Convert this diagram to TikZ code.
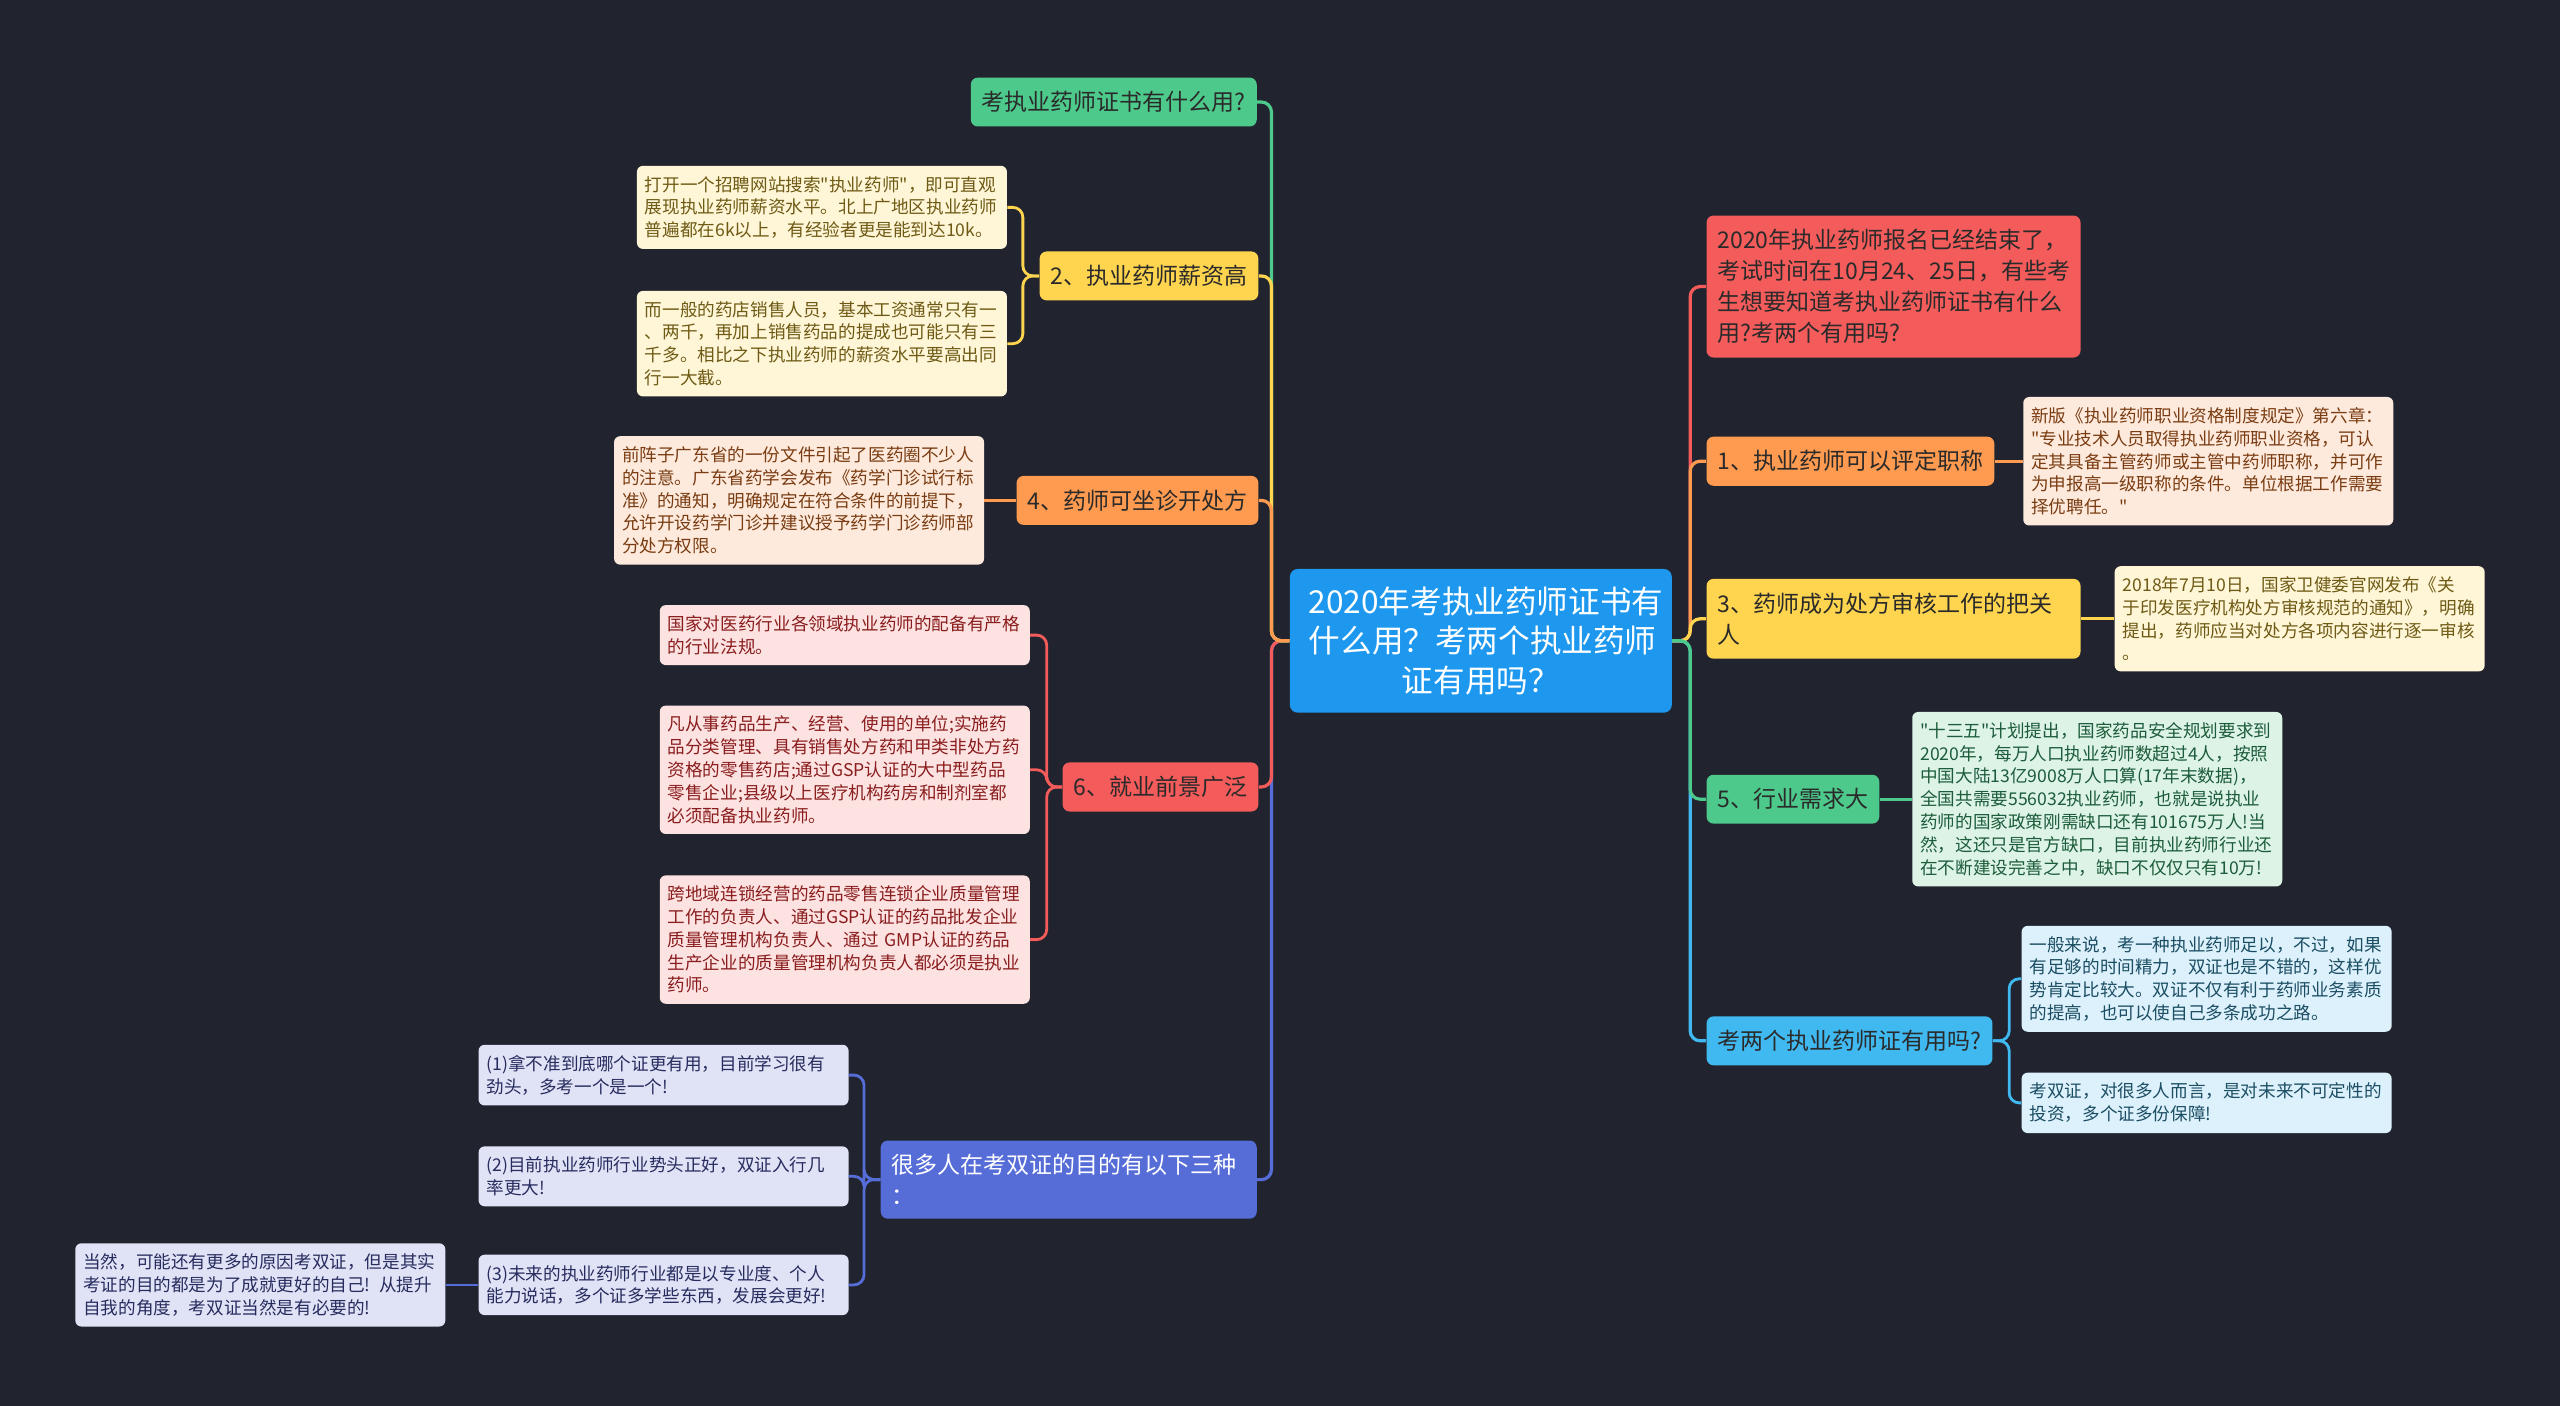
\documentclass[tikz,border=0pt]{standalone}
\usepackage{fontspec}
\setmainfont{Noto Sans CJK SC}[Ligatures=TeXOff]
\usepackage{tikz}
\usetikzlibrary{positioning}
\definecolor{bgdark}{HTML}{21242F}
\definecolor{rootblue}{HTML}{1E98EE}
\definecolor{mgreen}{HTML}{4DC98B}
\definecolor{myellow}{HTML}{FFD54F}
\definecolor{morange}{HTML}{FF9B50}
\definecolor{mred}{HTML}{F45B5B}
\definecolor{mviolet}{HTML}{566DD8}
\definecolor{mcyan}{HTML}{40B8F0}
\definecolor{ink}{HTML}{2A2A2A}
\definecolor{pcream}{HTML}{FFF6D8}
\definecolor{tcream}{HTML}{6E5A14}
\definecolor{ppeach}{HTML}{FDEADC}
\definecolor{tpeach}{HTML}{7A3C12}
\definecolor{ppink}{HTML}{FDE2E2}
\definecolor{tpink}{HTML}{8A1D1D}
\definecolor{plilac}{HTML}{E0E3F6}
\definecolor{tlilac}{HTML}{272C5E}
\definecolor{pmint}{HTML}{DCF3E6}
\definecolor{tmint}{HTML}{1D5C3A}
\definecolor{psky}{HTML}{DCF1FB}
\definecolor{tsky}{HTML}{1B4D63}

\begin{document}
\begin{tikzpicture}[x=0.8163pt,y=-0.8163pt,
  root/.style={fill=rootblue,text=white,rounded corners=4pt,align=center,text width=172pt,inner xsep=9.5pt,inner ysep=9pt,font=\fontsize{15.8}{19.6}\selectfont},
  topic/.style={rounded corners=3.5pt,text=ink,inner xsep=5.5pt,inner ysep=6.9pt,align=left,font=\fontsize{11.5}{15.5}\selectfont},
  leaf/.style={rounded corners=3pt,align=left,text width=177pt,inner xsep=4pt,inner ysep=5.2pt,font=\fontsize{8.8}{11.4}\selectfont},
  link/.style={line width=1.6pt,rounded corners=5pt},
  twig/.style={line width=1.4pt,rounded corners=5pt}]
\fill[bgdark] (0,0) rectangle (1568,861);
\node[root] (c) at (907,392.5) {2020年考执业药师证书有\\什么用？考两个执业药师\\证有用吗？};
\node[topic,fill=mgreen,anchor=east] (b1) at (770,62.5) {考执业药师证书有什么用?};
\node[topic,fill=myellow,anchor=east] (b2) at (771,169) {2、执业药师薪资高};
\node[topic,fill=morange,anchor=east] (b4) at (771,306.5) {4、药师可坐诊开处方};
\node[topic,fill=mred,anchor=east] (b6) at (771,482) {6、就业前景广泛};
\node[topic,fill=mviolet,text=white,anchor=east,text width=177pt] (b8) at (770,722.5) {很多人在考双证的目的有以下三种\\：};
\node[leaf,fill=pcream,text=tcream,anchor=east] (l2a) at (617,127) {打开一个招聘网站搜索"执业药师"，即可直观\\展现执业药师薪资水平。北上广地区执业药师\\普遍都在6k以上，有经验者更是能到达10k。};
\node[leaf,fill=pcream,text=tcream,anchor=east] (l2b) at (617,210.5) {而一般的药店销售人员，基本工资通常只有一\\、两千，再加上销售药品的提成也可能只有三\\千多。相比之下执业药师的薪资水平要高出同\\行一大截。};
\node[leaf,fill=ppeach,text=tpeach,anchor=east] (l4) at (603,306.5) {前阵子广东省的一份文件引起了医药圈不少人\\的注意。广东省药学会发布《药学门诊试行标\\准》的通知，明确规定在符合条件的前提下，\\允许开设药学门诊并建议授予药学门诊药师部\\分处方权限。};
\node[leaf,fill=ppink,text=tpink,anchor=east] (l6a) at (631,389) {国家对医药行业各领域执业药师的配备有严格\\的行业法规。};
\node[leaf,fill=ppink,text=tpink,anchor=east] (l6b) at (631,471.5) {凡从事药品生产、经营、使用的单位;实施药\\品分类管理、具有销售处方药和甲类非处方药\\资格的零售药店;通过GSP认证的大中型药品\\零售企业;县级以上医疗机构药房和制剂室都\\必须配备执业药师。};
\node[leaf,fill=ppink,text=tpink,anchor=east] (l6c) at (631,575.5) {跨地域连锁经营的药品零售连锁企业质量管理\\工作的负责人、通过GSP认证的药品批发企业\\质量管理机构负责人、通过 GMP认证的药品\\生产企业的质量管理机构负责人都必须是执业\\药师。};
\node[leaf,fill=plilac,text=tlilac,anchor=east] (l8a) at (520,658.5) {(1)拿不准到底哪个证更有用，目前学习很有\\劲头，多考一个是一个!};
\node[leaf,fill=plilac,text=tlilac,anchor=east] (l8b) at (520,720.5) {(2)目前执业药师行业势头正好，双证入行几\\率更大!};
\node[leaf,fill=plilac,text=tlilac,anchor=east] (l8c) at (520,787) {(3)未来的执业药师行业都是以专业度、个人\\能力说话，多个证多学些东西，发展会更好!};
\node[leaf,fill=plilac,text=tlilac,anchor=east] (l8d) at (273,787) {当然，可能还有更多的原因考双证，但是其实\\考证的目的都是为了成就更好的自己! 从提升\\自我的角度，考双证当然是有必要的!};
\node[topic,fill=mred,anchor=west,text width=176pt] (r0) at (1045,175.5) {2020年执业药师报名已经结束了，\\考试时间在10月24、25日，有些考\\生想要知道考执业药师证书有什么\\用?考两个有用吗?};
\node[topic,fill=morange,anchor=west] (r1) at (1045,282.5) {1、执业药师可以评定职称};
\node[topic,fill=myellow,anchor=west,text width=176pt] (r3) at (1045,379) {3、药师成为处方审核工作的把关\\人};
\node[topic,fill=mgreen,anchor=west] (r5) at (1045,489.5) {5、行业需求大};
\node[topic,fill=mcyan,anchor=west] (r7) at (1045,637.5) {考两个执业药师证有用吗?};
\node[leaf,fill=ppeach,text=tpeach,anchor=west] (r1a) at (1239,282.5) {新版《执业药师职业资格制度规定》第六章：\\"专业技术人员取得执业药师职业资格，可认\\定其具备主管药师或主管中药师职称，并可作\\为申报高一级职称的条件。单位根据工作需要\\择优聘任。"};
\node[leaf,fill=pcream,text=tcream,anchor=west] (r3a) at (1295,379) {2018年7月10日，国家卫健委官网发布《关\\于印发医疗机构处方审核规范的通知》，明确\\提出，药师应当对处方各项内容进行逐一审核\\。};
\node[leaf,fill=pmint,text=tmint,anchor=west] (r5a) at (1171,489.5) {"十三五"计划提出，国家药品安全规划要求到\\2020年，每万人口执业药师数超过4人，按照\\中国大陆13亿9008万人口算(17年末数据)，\\全国共需要556032执业药师，也就是说执业\\药师的国家政策刚需缺口还有101675万人!当\\然，这还只是官方缺口，目前执业药师行业还\\在不断建设完善之中，缺口不仅仅只有10万!};
\node[leaf,fill=psky,text=tsky,anchor=west] (r7a) at (1238,599.5) {一般来说，考一种执业药师足以，不过，如果\\有足够的时间精力，双证也是不错的，这样优\\势肯定比较大。双证不仅有利于药师业务素质\\的提高，也可以使自己多条成功之路。};
\node[leaf,fill=psky,text=tsky,anchor=west] (r7b) at (1238,675.5) {考双证，对很多人而言，是对未来不可定性的\\投资，多个证多份保障!};
\draw[link,mviolet] (c.west) -- ++(-11,0) |- (b8.east); \draw[link,mred] (c.west) -- ++(-11,0) |- (b6.east);
\draw[link,mgreen] (c.west) -- ++(-11,0) |- (b1.east); \draw[link,myellow] (c.west) -- ++(-11,0) |- (b2.east);
\draw[link,morange] (c.west) -- ++(-11,0) |- (b4.east);
\draw[link,mred] (c.east) -- ++(11,0) |- (r0.west); \draw[link,morange] (c.east) -- ++(11,0) |- (r1.west);
\draw[link,myellow] (c.east) -- ++(11,0) |- (r3.west);
\draw[link,mcyan] (c.east) -- ++(11,0) |- (r7.west); \draw[link,mgreen] (c.east) -- ++(11,0) |- (r5.west);
\draw[twig,myellow] (b2.west) -- ++(-10,0) |- (l2a.east); \draw[twig,myellow] (b2.west) -- ++(-10,0) |- (l2b.east);
\draw[twig,morange] (b4.west) -- (l4.east);
\draw[twig,mred] (b6.west) -- ++(-9.5,0) |- (l6a.east); \draw[twig,mred] (b6.west) -- ++(-9.5,0) |- (l6b.east);
\draw[twig,mred] (b6.west) -- ++(-9.5,0) |- (l6c.east);
\draw[twig,mviolet] (b8.west) -- ++(-10,0) |- (l8a.east); \draw[twig,mviolet] (b8.west) -- ++(-10,0) |- (l8b.east);
\draw[twig,mviolet] (b8.west) -- ++(-10,0) |- (l8c.east); \draw[twig,mviolet] (l8c.west) -- (l8d.east);
\draw[twig,morange] (r1.east) -- (r1a.west); \draw[twig,myellow] (r3.east) -- (r3a.west);
\draw[twig,mgreen] (r5.east) -- (r5a.west);
\draw[twig,mcyan] (r7.east) -- ++(10,0) |- (r7a.west); \draw[twig,mcyan] (r7.east) -- ++(10,0) |- (r7b.west);
\end{tikzpicture}
\end{document}
